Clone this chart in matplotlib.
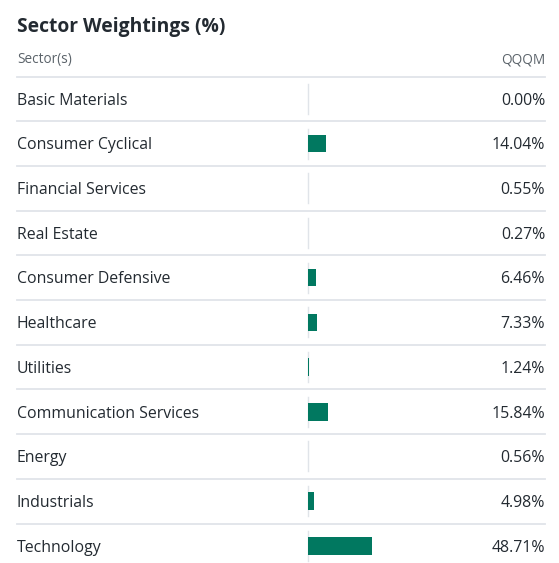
import numpy as np
import matplotlib.pyplot as plt

sectors = ["Basic Materials", "Consumer Cyclical", "Financial Services", "Real Estate",
           "Consumer Defensive", "Healthcare", "Utilities", "Communication Services",
           "Energy", "Industrials", "Technology"]
weights = [0.00, 14.04, 0.55, 0.27, 6.46, 7.33, 1.24, 15.84, 0.56, 4.98, 48.71]
fund = "QQQM"

W, H = 559, 563
fig = plt.figure(figsize=(W / 100, H / 100), dpi=100)
ax = fig.add_axes([0, 0, 1, 1])
ax.set_xlim(0, W)
ax.set_ylim(H, 0)
ax.axis("off")

plt.rcParams["font.family"] = ["Open Sans", "DejaVu Sans"]
dark = "#232a31"
grey = "#5b636a"
line_c = "#e0e4e9"
green = "#017860"

left, right = 17, 545
top, row_h = 76.5, 44.7
bar_x0, px_per_pct = 307.6, 1.315

ax.text(left, 27, "Sector Weightings (%)", fontsize=13.9, fontweight="bold",
        color=dark, va="center", ha="left")
ax.text(left, 60, "Sector(s)", fontsize=9.8, color=grey, va="center", ha="left")
ax.text(right, 60, fund, fontsize=9.8, color=grey, va="center", ha="right")
ax.plot([left, right], [top, top], color=line_c, lw=1.3)

centers = top + row_h * (np.arange(len(sectors)) + 0.5)
for i, (name, val) in enumerate(zip(sectors, weights)):
    yc = centers[i]
    ax.text(left, yc + 1.8, name, fontsize=11.45, color=dark, va="center", ha="left")
    ax.text(right, yc + 1.8, "{:.2f}%".format(val), fontsize=11.45, color=dark,
            va="center", ha="right")
    ax.plot([307.5, 307.5], [yc - 15, yc + 15], color=line_c, lw=1, zorder=1)
    if i < len(sectors) - 1:
        yl = top + row_h * (i + 1)
        ax.plot([left, right], [yl, yl], color=line_c, lw=1.3)

# small bars under a pixel wide vanish, like the page does
ax.barh(centers, np.array(weights) * px_per_pct, left=bar_x0, height=17.5,
        color=green, edgecolor="none", antialiased=False, zorder=3)

fig.savefig("out.png", dpi=100)
